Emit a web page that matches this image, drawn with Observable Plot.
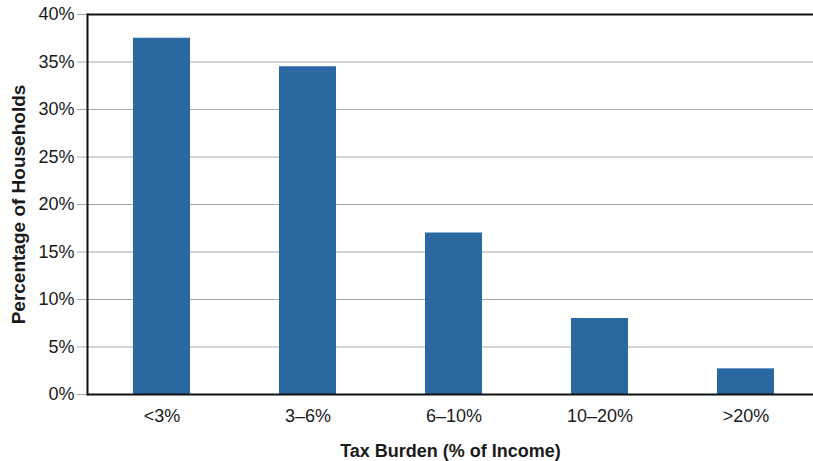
<!DOCTYPE html>
<html>
<head>
<meta charset="utf-8">
<script src="https://cdn.jsdelivr.net/npm/d3@7"></script>
<script src="https://cdn.jsdelivr.net/npm/@observablehq/plot@0.6"></script>
<style>
  html, body { margin: 0; padding: 0; background: #ffffff; }
  #chart { width: 813px; height: 461px; overflow: hidden; }
</style>
</head>
<body>
<div id="chart"></div>
<script>
const categories = ["<3%", "3–6%", "6–10%", "10–20%", ">20%"];
const shares = [37.5, 34.5, 17, 8, 2.7];
const yTicks = [0, 5, 10, 15, 20, 25, 30, 35, 40];

const data = categories.map((c, i) => ({category: c, share: shares[i]}));

const chart = Plot.plot({
  width: 813,
  height: 461,
  marginTop: 14,
  marginBottom: 67,
  marginLeft: 87,
  marginRight: 0,
  style: {fontFamily: "Liberation Sans, Arial, sans-serif", fontSize: "18px", color: "#1a1a1a", background: "#fff"},
  x: {domain: categories, range: [87, 820], paddingInner: 0.61, paddingOuter: 0.315, label: null},
  y: {domain: [0, 40], label: null},
  marks: [
    Plot.gridY(yTicks.filter(d => d > 0 && d < 40), {stroke: "#a8a8a8", strokeOpacity: 1, strokeWidth: 1}),
    Plot.barY(data, {x: "category", y: "share", fill: "#2b68a2"}),
    Plot.axisY(yTicks, {tickSize: 10, stroke: "#a8a8a8", tickPadding: 3, tickFormat: d => d + "%", fontSize: 18, fill: "#1a1a1a", label: null}),
    Plot.axisX({tickSize: 0, tickPadding: 15, fontSize: 18, fill: "#1a1a1a", label: null}),
    Plot.ruleY([0, 40], {stroke: "#111", strokeWidth: 2}),
    Plot.frame({anchor: "left", stroke: "#111", strokeWidth: 2}),
    Plot.text(["Tax Burden (% of Income)"], {frameAnchor: "bottom", dy: 62, fontSize: 18, fontWeight: "bold", fill: "#1a1a1a"}),
    Plot.text(["Percentage of Households"], {frameAnchor: "left", dx: -69, rotate: -90, textAnchor: "middle", fontSize: 19, fontWeight: "bold", fill: "#1a1a1a"})
  ]
});
document.getElementById("chart").appendChild(chart);
</script>
</body>
</html>
